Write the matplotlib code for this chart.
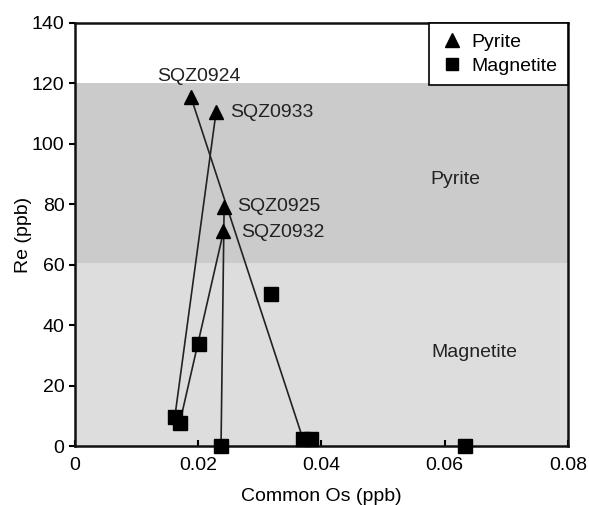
import numpy as np
import matplotlib
matplotlib.use("Agg")
import matplotlib.pyplot as plt
from matplotlib.lines import Line2D

plt.rcParams['font.family'] = ['Liberation Sans', 'DejaVu Sans']

# pyrite samples (common Os, Re)
pyrite_names = ["SQZ0924", "SQZ0933", "SQZ0925", "SQZ0932"]
pyrite_os = [0.0188, 0.0229, 0.0242, 0.0241]
pyrite_re = [115.6, 110.6, 79.0, 71.0]

# magnetite samples
magnetite_os = [0.0318, 0.0201, 0.0162, 0.0170, 0.0237, 0.0370, 0.0383, 0.0633]
magnetite_re = [50.3, 33.8, 9.6, 7.6, 0.0, 2.3, 2.3, 0.0]

# tie lines: pyrite index -> magnetite index
ties = [(0, 5), (1, 2), (2, 4), (3, 3)]

# composition fields (Re ranges)
field_names = ["Magnetite", "Pyrite"]
field_lo = [0, 60.5]
field_hi = [60.5, 120]
field_colors = ["#dddddd", "#cbcbcb"]

fs = 14

fig = plt.figure(figsize=(5.89, 5.05), dpi=100)
ax = fig.add_axes([0.1273, 0.1168, 0.837, 0.8377])

for lo, hi, c in zip(field_lo, field_hi, field_colors):
    ax.axhspan(lo, hi, color=c, zorder=0, lw=0)

for p, m in ties:
    ax.plot([pyrite_os[p], magnetite_os[m]], [pyrite_re[p], magnetite_re[m]],
            color="#222222", lw=1.2, zorder=2)

ax.plot(magnetite_os, magnetite_re, "s", color="black", ms=9.5, zorder=3, clip_on=False)
ax.plot(pyrite_os, pyrite_re, "^", color="black", ms=10, zorder=4, clip_on=False)

# sample labels
label_x = [0.0133, 0.0252, 0.0263, 0.0269]
label_y = [122.2, 110.3, 79.1, 70.5]
for name, lx, ly in zip(pyrite_names, label_x, label_y):
    ax.text(lx, ly, name, fontsize=fs, color="#222222", va="center")

# field labels
ax.text(0.0617, 88.1, field_names[1], fontsize=fs, color="#222222", ha="center", va="center")
ax.text(0.0648, 30.8, field_names[0], fontsize=fs, color="#222222", ha="center", va="center")

ax.set_xlim(0, 0.08)
ax.set_ylim(0, 140)
ax.set_xticks([0, 0.02, 0.04, 0.06, 0.08])
ax.set_xticklabels(["0", "0.02", "0.04", "0.06", "0.08"])
ax.set_yticks(np.arange(0, 141, 20))
ax.tick_params(axis="x", direction="in", length=4, width=1.5, labelsize=fs, pad=8)
ax.tick_params(axis="y", direction="out", length=4, width=1.5, labelsize=fs)
for s in ax.spines.values():
    s.set_linewidth(1.8)
    s.set_color("#111111")

ax.set_xlabel("Common Os (ppb)", fontsize=fs, labelpad=10)
ax.set_ylabel("Re (ppb)", fontsize=fs, labelpad=0)

handles = [Line2D([], [], marker="^", color="black", ls="none", ms=10),
           Line2D([], [], marker="s", color="black", ls="none", ms=9)]
leg = ax.legend(handles, ["Pyrite", "Magnetite"], loc="upper right",
                bbox_to_anchor=(1.0, 1.0), borderaxespad=0, fancybox=False,
                edgecolor="black", framealpha=1, fontsize=fs, handletextpad=0.4,
                handlelength=1.2, borderpad=0.55, labelspacing=0.3)
leg.get_frame().set_linewidth(1.2)
leg.set_zorder(5)

fig.savefig("out.png", dpi=100)
